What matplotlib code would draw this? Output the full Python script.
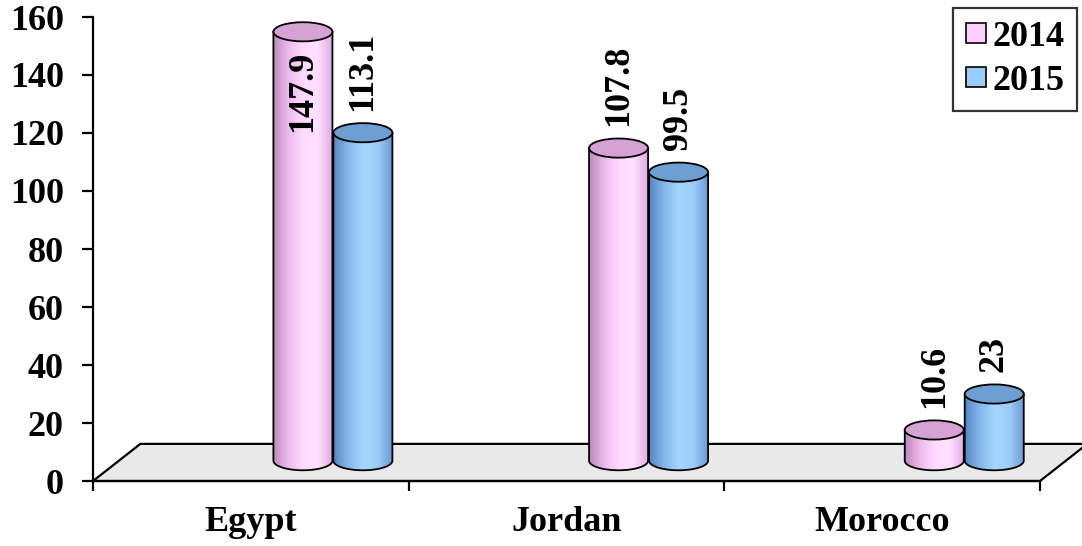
import numpy as np
import matplotlib.pyplot as plt
from matplotlib.patches import Ellipse, Polygon
from matplotlib.colors import LinearSegmentedColormap
from matplotlib.lines import Line2D

# data
countries = ['Egypt', 'Jordan', 'Morocco']
years = ['2014', '2015']
v2014 = [147.9, 107.8, 10.6]
v2015 = [113.1, 99.5, 23]
yticks = [0, 20, 40, 60, 80, 100, 120, 140, 160]

plt.rcParams['font.family'] = ['Liberation Serif', 'DejaVu Serif']
plt.rcParams['font.weight'] = 'bold'

# look of the 3d cylinders
DX, DY = 0.15, 12.8          # floor depth (x units, value units)
BW = 0.187                   # cylinder width
EB = 3.3                     # half height of the end ellipses
offsets = [0.59, 0.78]       # where each series sits inside a category
body_cols = [['#bf88bf', '#ecbaec', '#ffdaff', '#ffe0ff', '#e0a8e0'],
             ['#5686c0', '#84b6ea', '#a6d6ff', '#9ccdfa', '#6898d0']]
top_cols = ['#d6a2d6', '#6d9fd2']
leg_cols = ['#ffccff', '#99ccff']

fig = plt.figure(figsize=(10.82, 5.46), dpi=100)
ax = fig.add_axes([93 / 1082, 65 / 546, 947 / 1082, 464 / 546])

# floor
floor = Polygon([(0, 0), (3, 0), (3 + DX, DY), (DX, DY)], closed=True,
                facecolor='#e9e9e9', edgecolor='black', lw=1.6,
                clip_on=False, zorder=1)
ax.add_patch(floor)

y0 = 7.0
for s, vals in enumerate([v2014, v2015]):
    cmap = LinearSegmentedColormap.from_list('c%d' % s, body_cols[s])
    for i, v in enumerate(vals):
        cx = i + offsets[s] + DX / 2
        xl, xr = cx - BW / 2, cx + BW / 2
        top = y0 + v
        th = np.linspace(0, -np.pi, 60)
        pts = [(xr, top)] + list(zip(cx + BW / 2 * np.cos(th), y0 + EB * np.sin(th))) + [(xl, top)]
        body = Polygon(pts, closed=True, facecolor='none', edgecolor='black',
                       lw=1.3, zorder=3 + s * 3 + 1, clip_on=False)
        ax.add_patch(body)
        grad = np.linspace(0, 1, 200).reshape(1, -1)
        im = ax.imshow(grad, extent=(xl, xr, y0 - EB, top), aspect='auto',
                       cmap=cmap, zorder=3 + s * 3, clip_on=True)
        im.set_clip_path(body)
        ax.add_patch(Ellipse((cx, top), BW, 2 * EB, facecolor=top_cols[s],
                             edgecolor='black', lw=1.3, zorder=3 + s * 3 + 2,
                             clip_on=False))
        # value label, put inside the cylinder when it would run off the top
        lab = ('%g' % v)
        if top + 8.5 + 27 > 165:
            ax.text(cx, top - 6.5, lab, rotation=90, ha='center', va='top',
                    fontsize=26, fontweight='bold', zorder=20)
        else:
            ax.text(cx, top + 7.5, lab, rotation=90, ha='center', va='bottom',
                    fontsize=26, fontweight='bold', zorder=20)

ax.set_xlim(0, 3)
ax.set_ylim(0, 160)
ax.set_facecolor('none')

for sp in ['top', 'right']:
    ax.spines[sp].set_visible(False)
ax.spines['left'].set_linewidth(1.6)
ax.spines['bottom'].set_linewidth(1.6)
ax.spines['bottom'].set_zorder(2)

ax.set_yticks(yticks)
ax.set_yticklabels([str(t) for t in yticks], fontsize=26, fontweight='bold')
ax.tick_params(axis='y', direction='out', length=8, width=1.6, pad=13)

ax.set_xticks([0, 1, 2, 3])
ax.set_xticklabels([])
ax.tick_params(axis='x', which='major', direction='out', length=7, width=1.6)
ax.set_xticks([0.5, 1.5, 2.5], minor=True)
ax.set_xticklabels(countries, minor=True, fontsize=26, fontweight='bold')
ax.tick_params(axis='x', which='minor', length=0, pad=18)

handles = [Line2D([], [], marker='s', linestyle='none', markersize=14,
                  markerfacecolor=leg_cols[k], markeredgecolor='black',
                  markeredgewidth=1.2) for k in range(2)]
leg = fig.legend(handles, years, loc='upper right',
                 bbox_to_anchor=(1077 / 1082, 1 - 8 / 546),
                 prop={'size': 26, 'weight': 'bold'}, fancybox=False,
                 frameon=True, borderaxespad=0, handlelength=0.6,
                 handletextpad=0.15, labelspacing=0.3, borderpad=0.35)
leg.get_frame().set_edgecolor('black')
leg.get_frame().set_linewidth(1.6)

fig.savefig('out.png', dpi=100)
